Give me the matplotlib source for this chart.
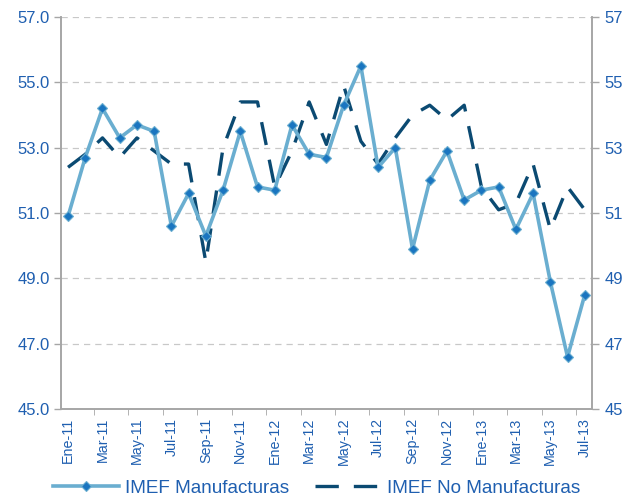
import numpy as np
import matplotlib.pyplot as plt
from matplotlib.ticker import FixedLocator

plt.rcParams['font.family'] = ['Liberation Sans', 'DejaVu Sans']

# ---- datos
meses = ["Ene-11", "Feb-11", "Mar-11", "Abr-11", "May-11", "Jun-11", "Jul-11", "Ago-11",
         "Sep-11", "Oct-11", "Nov-11", "Dic-11", "Ene-12", "Feb-12", "Mar-12", "Abr-12",
         "May-12", "Jun-12", "Jul-12", "Ago-12", "Sep-12", "Oct-12", "Nov-12", "Dic-12",
         "Ene-13", "Feb-13", "Mar-13", "Abr-13", "May-13", "Jun-13", "Jul-13"]

manufacturas = [50.9, 52.7, 54.2, 53.3, 53.7, 53.5, 50.6, 51.6, 50.3, 51.7, 53.5, 51.8,
                51.7, 53.7, 52.8, 52.7, 54.3, 55.5, 52.4, 53.0, 49.9, 52.0, 52.9, 51.4,
                51.7, 51.8, 50.5, 51.6, 48.9, 46.6, 48.5]

no_manufacturas = [52.4, 52.8, 53.3, 52.7, 53.3, 52.9, 52.5, 52.5, 49.5, 53.0, 54.4, 54.4,
                   51.8, 52.9, 54.4, 53.1, 54.9, 53.2, 52.5, 53.3, 54.0, 54.3, 53.85, 54.3,
                   51.8, 51.1, 51.3, 52.5, 50.5, 51.8, 51.1]

azul_texto = "#1F5FB0"
gris = "#A6A6A6"

x = np.arange(len(meses))

fig = plt.figure(figsize=(6.4, 4.99), dpi=100)
ax = fig.add_axes([0.095, 0.18, 0.83, 0.786])

ax.plot(x, manufacturas, color="#6AAED0", lw=2.6, marker="D", ms=5,
        mfc="#1A75C0", mec="#6AAED0", mew=0.8, label="IMEF Manufacturas", zorder=3)
ax.plot(x, no_manufacturas, color="#0B4A72", lw=2.4, dashes=(7, 4.5),
        label="IMEF No Manufacturas", zorder=2)

ax.set_xlim(-0.42, len(meses) - 0.58)
ax.set_ylim(45, 57)

# ---- eje y
yt = np.arange(45, 58, 2)
ax.set_yticks(yt)
ax.set_yticklabels(["%.1f" % v for v in yt])
ax.yaxis.grid(True, color="#C8C8C8", ls=(0, (5, 4)), lw=0.9)
ax.set_axisbelow(True)

ax2 = ax.twinx()
ax2.set_ylim(45, 57)
ax2.set_yticks(yt)
ax2.set_yticklabels(["%d" % v for v in yt])

# ---- eje x
ax.set_xticks(x[::2])
ax.set_xticklabels(meses[::2], rotation=90)
ax.tick_params(axis="x", length=0, pad=6)
ax.xaxis.set_minor_locator(FixedLocator(np.arange(-0.5, len(meses), 2)))
ax.tick_params(axis="x", which="minor", length=4, color=gris)

for a in (ax, ax2):
    a.spines["top"].set_visible(False)
    for s in ("left", "right", "bottom"):
        a.spines[s].set_color(gris)
        a.spines[s].set_linewidth(1.2)
    a.tick_params(labelsize=12, labelcolor=azul_texto, color=gris, width=1.0)
ax.tick_params(axis="y", length=5, pad=3)
ax2.tick_params(axis="y", length=5, pad=4)
ax.tick_params(axis="x", labelsize=10.3)

# ---- leyenda
h, l = ax.get_legend_handles_labels()
leg = fig.legend(h, l, loc="lower center", bbox_to_anchor=(0.495, -0.03), ncol=2,
                 frameon=False, fontsize=13.6, handlelength=3.5, columnspacing=1.4,
                 handletextpad=0.3)
for t in leg.get_texts():
    t.set_color(azul_texto)

fig.savefig("out.png", dpi=100)
